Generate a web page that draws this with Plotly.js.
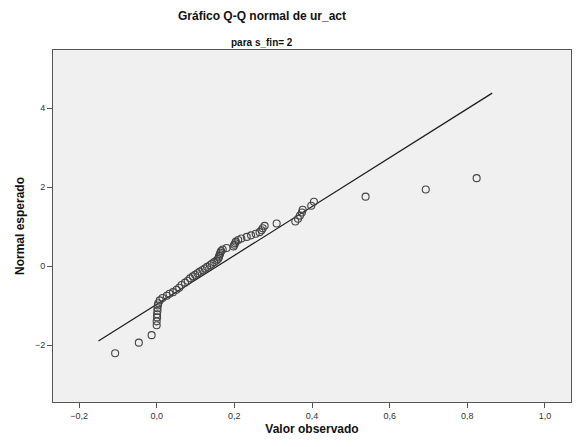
<!DOCTYPE html>
<html>
<head>
<meta charset="utf-8">
<script src="https://cdn.plot.ly/plotly-3.0.1.min.js"></script>
<style>html,body{margin:0;padding:0;background:#fff;}#chart{width:578px;height:447px;}</style>
</head>
<body>
<div id="chart"></div>
<script>
const observed = [-0.107, -0.046, -0.013, 0.000, 0.000, 0.001, 0.001, 0.002, 0.002, 0.003, 0.004, 0.008, 0.015, 0.026, 0.033, 0.042, 0.051, 0.058, 0.064, 0.073, 0.080, 0.086, 0.093, 0.099, 0.105, 0.111, 0.118, 0.124, 0.130, 0.137, 0.142, 0.148, 0.154, 0.158, 0.160, 0.161, 0.163, 0.164, 0.166, 0.170, 0.180, 0.198, 0.200, 0.202, 0.204, 0.210, 0.218, 0.232, 0.243, 0.255, 0.265, 0.270, 0.273, 0.278, 0.309, 0.357, 0.364, 0.369, 0.374, 0.376, 0.398, 0.405, 0.538, 0.693, 0.824];
const expected = [-2.21, -1.94, -1.75, -1.50, -1.40, -1.30, -1.22, -1.14, -1.07, -1.00, -0.94, -0.87, -0.81, -0.75, -0.70, -0.66, -0.60, -0.55, -0.48, -0.42, -0.37, -0.31, -0.26, -0.22, -0.18, -0.14, -0.10, -0.06, -0.02, 0.02, 0.06, 0.10, 0.14, 0.18, 0.22, 0.26, 0.30, 0.34, 0.38, 0.42, 0.46, 0.50, 0.54, 0.58, 0.62, 0.66, 0.70, 0.74, 0.78, 0.82, 0.86, 0.91, 0.96, 1.02, 1.08, 1.13, 1.20, 1.28, 1.36, 1.43, 1.53, 1.63, 1.76, 1.94, 2.23];
// Reference line endpoints
const lineX = [-0.150, 0.864];
const lineY = [-1.90, 4.385];
const xTicks = [-0.2, 0.0, 0.2, 0.4, 0.6, 0.8, 1.0];
const yTicks = [-2, 0, 2, 4];

const font = "Arial, 'Liberation Sans', sans-serif";

const traces = [
  {x: lineX, y: lineY, mode: 'lines', type: 'scatter',
   line: {color: '#1a1a1a', width: 1.2}, hoverinfo: 'skip', showlegend: false},
  {x: observed, y: expected, mode: 'markers', type: 'scatter',
   marker: {symbol: 'circle-open', size: 7, color: '#444', line: {width: 1.1, color: '#444'}},
   showlegend: false}
];

const layout = {
  width: 578, height: 447,
  margin: {l: 53, r: 7, t: 50, b: 45, pad: 0},
  paper_bgcolor: '#ffffff',
  plot_bgcolor: '#f0f0f0',
  separators: ',.',
  font: {family: font, color: '#222'},
  xaxis: {
    range: [-0.267, 1.067], tickvals: xTicks, tickformat: '.1f',
    showgrid: false, zeroline: false,
    showline: true, linecolor: '#555', linewidth: 1, mirror: true,
    ticks: 'outside', ticklen: 5, tickcolor: '#555', tickwidth: 1,
    tickfont: {family: font, size: 9, color: '#333'},
    title: {text: 'Valor observado', font: {family: font, size: 12, color: '#111', weight: 'bold'}, standoff: 4}
  },
  yaxis: {
    range: [-3.445, 5.478], tickvals: yTicks, tickformat: 'd',
    showgrid: false, zeroline: false,
    showline: true, linecolor: '#555', linewidth: 1, mirror: true,
    ticks: 'outside', ticklen: 5, tickcolor: '#555', tickwidth: 1,
    tickfont: {family: font, size: 9, color: '#333'},
    title: {text: 'Normal esperado', font: {family: font, size: 12, color: '#111', weight: 'bold'}, standoff: 7}
  },
  annotations: [
    {text: '<b>Gráfico Q-Q normal de ur_act</b>', xref: 'paper', yref: 'paper',
     x: 0.403, y: 1, yshift: 34, xanchor: 'center', yanchor: 'middle', showarrow: false,
     font: {family: font, size: 12, color: '#111'}},
    {text: '<b>para s_fin= 2</b>', xref: 'paper', yref: 'paper',
     x: 0.403, y: 1, yshift: 8, xanchor: 'center', yanchor: 'middle', showarrow: false,
     font: {family: font, size: 10, color: '#111'}}
  ]
};

Plotly.newPlot('chart', traces, layout, {displayModeBar: false, staticPlot: true});
</script>
</body>
</html>
